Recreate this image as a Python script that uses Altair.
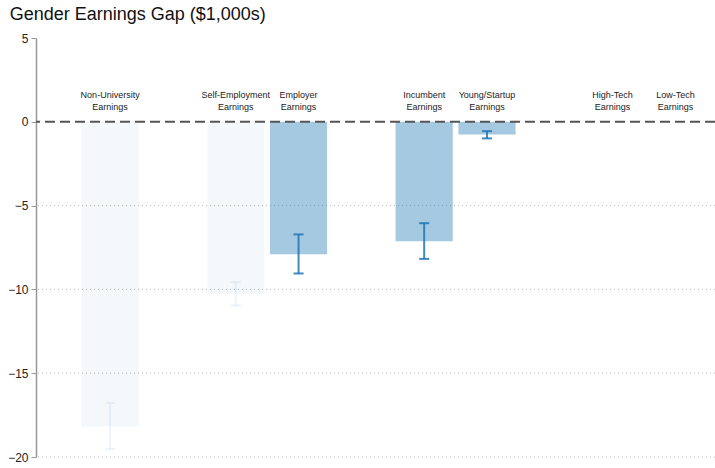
import altair as alt
import pandas as pd

categories = ["Non-University\nEarnings", "Self-Employment\nEarnings", "Employer\nEarnings",
              "Incumbent\nEarnings", "Young/Startup\nEarnings", "High-Tech\nEarnings", "Low-Tech\nEarnings"]
positions = [1, 3, 4, 6, 7, 9, 10]
gap = [-18.18, -10.26, -7.9, -7.12, -0.76, None, None]
ci_low = [-19.53, -10.96, -9.05, -8.18, -0.99, None, None]
ci_high = [-16.77, -9.57, -6.72, -6.05, -0.56, None, None]
faded = [True, True, False, False, False, False, False]
grid_values = [-5, -10, -15, -20]

df = pd.DataFrame({"cat": categories, "pos": positions, "gap": gap,
                   "lo": ci_low, "hi": ci_high, "faded": faded})
df["label"] = df["cat"].str.split("\n")
bars_df = df.dropna(subset=["gap"])

xs = alt.Scale(domain=[-0.18, 10.63], nice=False, zero=False)
ys = alt.Scale(domain=[-20, 5], nice=False, zero=False)

base = alt.Chart(bars_df)

grid = alt.Chart(pd.DataFrame({"g": grid_values})).mark_rule(
    color="#bbbbbb", strokeDash=[1, 3], strokeWidth=1
).encode(y=alt.Y("g:Q", scale=ys))

bars = base.mark_rect(color="#1f77b4").transform_calculate(
    x0="datum.pos - 0.455", x1="datum.pos + 0.455", z="0"
).encode(
    x=alt.X("x0:Q", scale=xs, axis=None),
    x2="x1:Q",
    y=alt.Y("z:Q", scale=ys, axis=alt.Axis(
        values=[5, 0, -5, -10, -15, -20], title=None, grid=False,
        domainColor="#999999", tickColor="#999999", tickSize=5,
        labelFontSize=12, labelColor="#222222", labelFont="Liberation Sans",
        labelPadding=3, domainWidth=1.5)),
    y2="gap:Q",
    opacity=alt.condition("datum.faded", alt.value(0.05), alt.value(0.4)),
)

err = base.mark_rule(color="#1f77b4", strokeWidth=2).encode(
    x=alt.X("pos:Q", scale=xs),
    y=alt.Y("lo:Q", scale=ys),
    y2="hi:Q",
    opacity=alt.condition("datum.faded", alt.value(0.08), alt.value(0.85)),
)

caps_lo = base.mark_rule(color="#1f77b4", strokeWidth=2).transform_calculate(
    c0="datum.pos - 0.08", c1="datum.pos + 0.08"
).encode(
    x=alt.X("c0:Q", scale=xs), x2="c1:Q",
    y=alt.Y("lo:Q", scale=ys),
    opacity=alt.condition("datum.faded", alt.value(0.08), alt.value(0.85)),
)
caps_hi = base.mark_rule(color="#1f77b4", strokeWidth=2).transform_calculate(
    c0="datum.pos - 0.08", c1="datum.pos + 0.08"
).encode(
    x=alt.X("c0:Q", scale=xs), x2="c1:Q",
    y=alt.Y("hi:Q", scale=ys),
    opacity=alt.condition("datum.faded", alt.value(0.08), alt.value(0.85)),
)

zero = alt.Chart(pd.DataFrame({"z": [0]})).mark_rule(
    color="#555555", strokeDash=[10, 5], strokeWidth=2
).encode(y=alt.Y("z:Q", scale=ys))

labels = alt.Chart(df).mark_text(
    font="Liberation Sans", fontSize=9, color="#222222",
    baseline="middle", lineHeight=12
).transform_calculate(ly="1.61").encode(
    x=alt.X("pos:Q", scale=xs),
    y=alt.Y("ly:Q", scale=ys),
    text="label",
)

chart = alt.layer(grid, bars, err, caps_lo, caps_hi, zero, labels).properties(
    width=679, height=419,
    title=alt.Title("Gender Earnings Gap ($1,000s)", anchor="start", dx=2,
                    offset=8, fontSize=18, fontWeight="normal",
                    font="Liberation Sans", color="#111111"),
    autosize=alt.AutoSizeParams(type="none"),
    padding={"left": 36, "top": 38, "right": 0, "bottom": 11},
).configure_view(stroke=None)

chart.save("out.html", embed_options={"renderer": "svg", "actions": False})
